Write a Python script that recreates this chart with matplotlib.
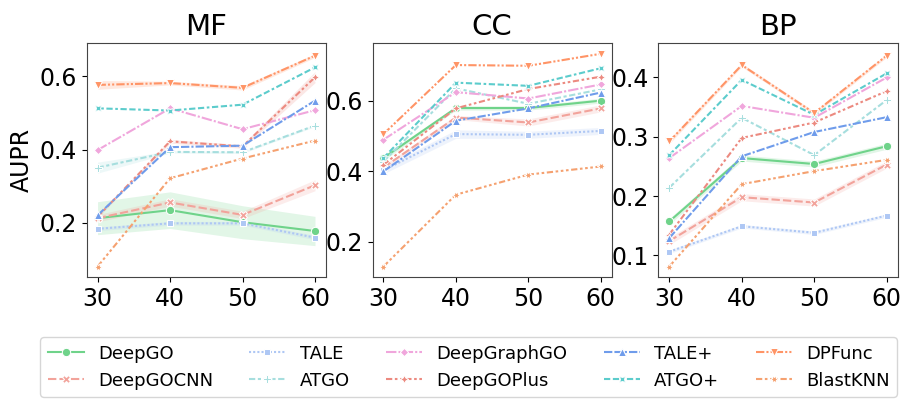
import numpy as np
import matplotlib
matplotlib.use("Agg")
import matplotlib.pyplot as plt

# Data
lengths = [30, 40, 50, 60]
methods = ['DeepGO', 'DeepGOCNN', 'TALE', 'ATGO', 'DeepGraphGO',
           'DeepGOPlus', 'TALE+', 'ATGO+', 'DPFunc', 'BlastKNN']
colors = ['#6fd38a', '#f2a39b', '#aec7f4', '#a6dede', '#f0a6dc',
          '#ec8a80', '#6f9ceb', '#5ccccc', '#ff9466', '#f5a170']

mf = {
    'DeepGO':      [0.213, 0.235, 0.202, 0.178],
    'DeepGOCNN':   [0.213, 0.256, 0.222, 0.303],
    'TALE':        [0.184, 0.199, 0.199, 0.160],
    'ATGO':        [0.351, 0.394, 0.393, 0.466],
    'DeepGraphGO': [0.399, 0.513, 0.456, 0.508],
    'DeepGOPlus':  [0.217, 0.423, 0.409, 0.598],
    'TALE+':       [0.221, 0.407, 0.411, 0.534],
    'ATGO+':       [0.513, 0.507, 0.523, 0.625],
    'DPFunc':      [0.577, 0.582, 0.569, 0.657],
    'BlastKNN':    [0.081, 0.322, 0.376, 0.425],
}
cc = {
    'DeepGO':      [0.437, 0.579, 0.579, 0.600],
    'DeepGOCNN':   [0.410, 0.552, 0.538, 0.578],
    'TALE':        [0.402, 0.505, 0.503, 0.514],
    'ATGO':        [0.427, 0.635, 0.591, 0.632],
    'DeepGraphGO': [0.489, 0.624, 0.606, 0.646],
    'DeepGOPlus':  [0.418, 0.578, 0.633, 0.668],
    'TALE+':       [0.399, 0.543, 0.578, 0.623],
    'ATGO+':       [0.437, 0.651, 0.642, 0.692],
    'DPFunc':      [0.505, 0.701, 0.699, 0.733],
    'BlastKNN':    [0.129, 0.333, 0.390, 0.413],
}
bp = {
    'DeepGO':      [0.157, 0.264, 0.254, 0.284],
    'DeepGOCNN':   [0.124, 0.198, 0.189, 0.253],
    'TALE':        [0.106, 0.149, 0.138, 0.167],
    'ATGO':        [0.214, 0.332, 0.269, 0.362],
    'DeepGraphGO': [0.264, 0.352, 0.332, 0.400],
    'DeepGOPlus':  [0.135, 0.298, 0.324, 0.377],
    'TALE+':       [0.129, 0.267, 0.308, 0.333],
    'ATGO+':       [0.269, 0.396, 0.337, 0.407],
    'DPFunc':      [0.292, 0.421, 0.340, 0.437],
    'BlastKNN':    [0.081, 0.220, 0.242, 0.261],
}

# half-widths of the shaded error bands
mf_err = {
    'DeepGO':     [0.045, 0.050, 0.045, 0.040],
    'DeepGOCNN':  [0.010, 0.010, 0.010, 0.015],
    'TALE':       [0.005, 0.005, 0.005, 0.006],
    'ATGO':       [0.015, 0.003, 0.003, 0.003],
    'DeepGOPlus': [0.003, 0.005, 0.005, 0.015],
    'DPFunc':     [0.012, 0.005, 0.006, 0.005],
}
cc_err = {
    'DeepGO':     [0.007, 0.006, 0.006, 0.007],
    'DeepGOCNN':  [0.006, 0.006, 0.010, 0.010],
    'TALE':       [0.010, 0.012, 0.010, 0.010],
}
bp_err = {
    'DeepGO':     [0.005, 0.005, 0.005, 0.005],
    'DeepGOCNN':  [0.006, 0.006, 0.006, 0.006],
    'TALE':       [0.003, 0.003, 0.003, 0.003],
    'DPFunc':     [0.004, 0.003, 0.003, 0.003],
}

# seaborn default style markers / dashes
markers = ['o', 'X', (4, 0, 45), 'P', (4, 0, 0), (4, 1, 0), '^', (4, 1, 45), 'v', (6, 1, 30)]
dashes = [(None, None), (4, 1.5), (1, 1), (3, 1.25, 1.5, 1.25), (5, 1, 1, 1),
          (3, 1.25, 1.25, 1.25, 1.25, 1.25), (4, 1, 4, 1, 1, 1),
          (3, 1.25, 3, 1.25, 1.25, 1.25), (4, 1, 1, 1, 1, 1),
          (3, 1.25, 1.25, 1.25, 1.25, 1.25, 1.25, 1.25)]

plt.rcParams['font.family'] = 'DejaVu Sans'

fig, axes = plt.subplots(1, 3, figsize=(9.03, 4.07), dpi=100)
fig.subplots_adjust(left=0.096, right=0.994, top=0.894, bottom=0.319, wspace=0.195)

panels = [('MF', mf, mf_err), ('CC', cc, cc_err), ('BP', bp, bp_err)]
handles = []
for ax, (title, data, err) in zip(axes, panels):
    for i, m in enumerate(methods):
        y = np.array(data[m])
        if m in err:
            e = np.array(err[m])
            ax.fill_between(lengths, y - e, y + e, color=colors[i], alpha=0.2, lw=0)
        line, = ax.plot(lengths, y, color=colors[i], marker=markers[i],
                        markersize=6, markeredgecolor='w', markeredgewidth=0.75,
                        lw=1.5, label=m)
        if dashes[i][0] is not None:
            line.set_dashes(dashes[i])
        if title == 'MF':
            handles.append(line)
    ax.set_title(title, fontsize=21)
    ax.set_xticks(lengths)
    ax.tick_params(labelsize=17)
    for s in ax.spines.values():
        s.set_color('#444444')

axes[1].set_yticks([0.2, 0.4, 0.6])
axes[2].set_yticks([0.1, 0.2, 0.3, 0.4])
axes[0].set_ylabel('AUPR', fontsize=17)

fig.legend(handles, methods, loc='lower center', ncol=5, fontsize=13,
           bbox_to_anchor=(0.519, 0.003), frameon=True, columnspacing=2.0,
           handlelength=2.0)

fig.savefig('out.png', dpi=100)
